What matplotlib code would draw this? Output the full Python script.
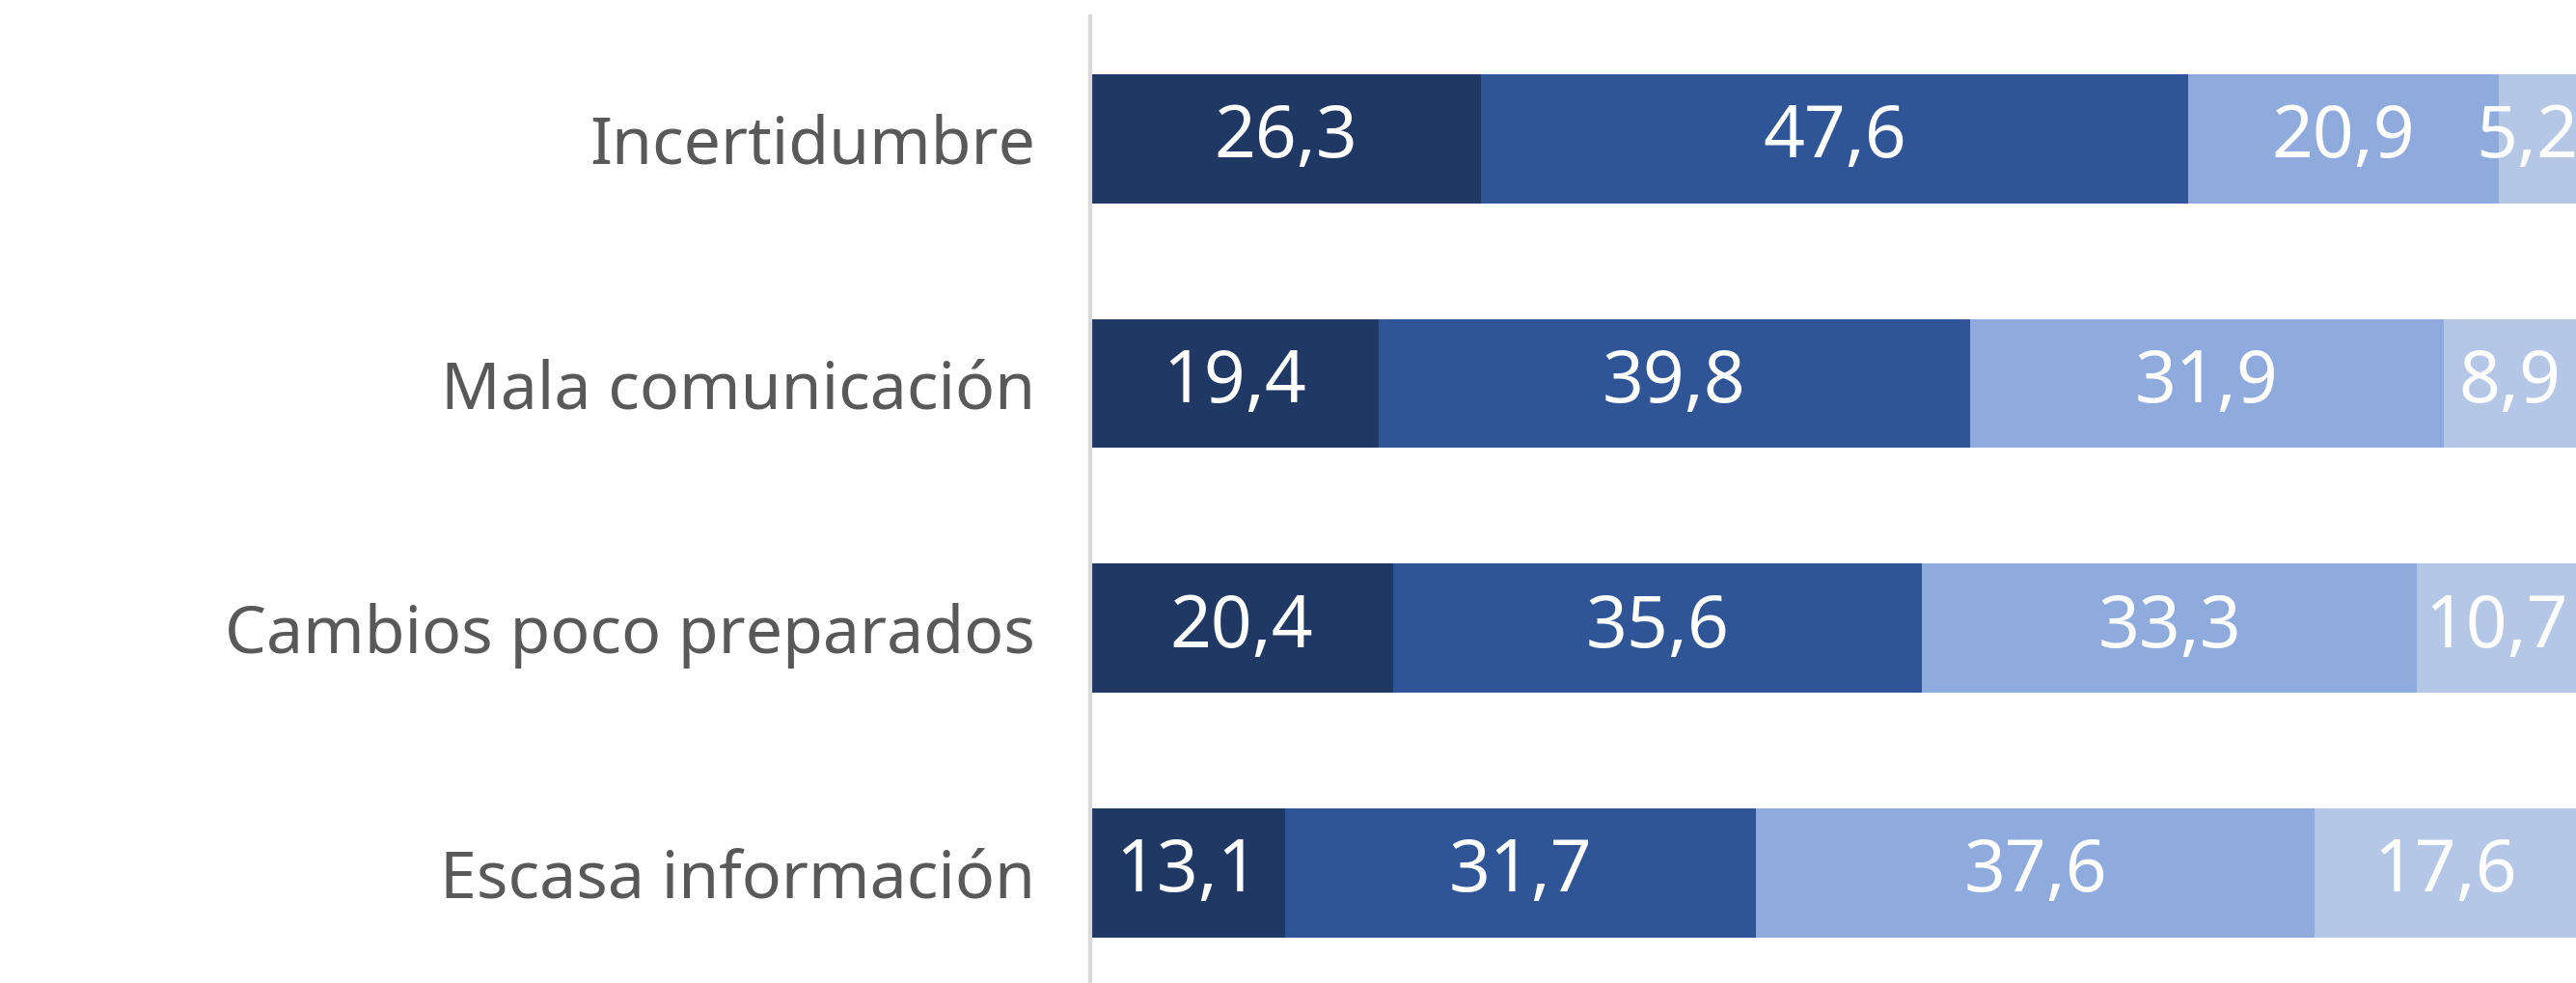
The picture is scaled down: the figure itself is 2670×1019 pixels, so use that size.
import numpy as np
import matplotlib
matplotlib.use("Agg")
import matplotlib.pyplot as plt

# datos
categorias = ["Incertidumbre", "Mala comunicación", "Cambios poco preparados", "Escasa información"]
muy_alto = [26.3, 19.4, 20.4, 13.1]
alto = [47.6, 39.8, 35.6, 31.7]
medio = [20.9, 31.9, 33.3, 37.6]
bajo = [5.2, 8.9, 10.7, 17.6]

series = [muy_alto, alto, medio, bajo]
colores = ["#203864", "#2F5597", "#8FAADC", "#B4C7E7"]

plt.rcParams["font.family"] = ["Noto Sans", "DejaVu Sans"]

fig = plt.figure(figsize=(26.7, 10.19), dpi=100)
ax = fig.add_axes([1130 / 2670, 0.0, 1 - 1130 / 2670, 1 - 17 / 1019])

y = np.arange(len(categorias))
izq = np.zeros(len(categorias))
for valores, color in zip(series, colores):
    valores = np.array(valores)
    barras = ax.barh(y, valores, left=izq, height=0.528, color=color, edgecolor="none")
    for b, v in zip(barras, valores):
        # las etiquetas del borde derecho se meten un poco para que no se corten
        xc = min(b.get_x() + b.get_width() / 2, 96.7)
        ax.text(xc, b.get_y() + b.get_height() / 2,
                f"{v:.1f}".replace(".", ","), ha="center", va="center",
                color="white", fontsize=54)
    izq += valores

ax.set_xlim(0, 100)
ax.set_ylim(3.45, -0.5)
ax.set_yticks(y)
ax.set_yticklabels(categorias, fontsize=49, color="#595959", fontweight="light")
ax.tick_params(axis="y", length=0, pad=41)
ax.set_xticks([])

for lado in ["top", "right", "bottom"]:
    ax.spines[lado].set_visible(False)
ax.spines["left"].set_color("#D9D9D9")
ax.spines["left"].set_linewidth(3)

fig.savefig("out.png", dpi=100)
